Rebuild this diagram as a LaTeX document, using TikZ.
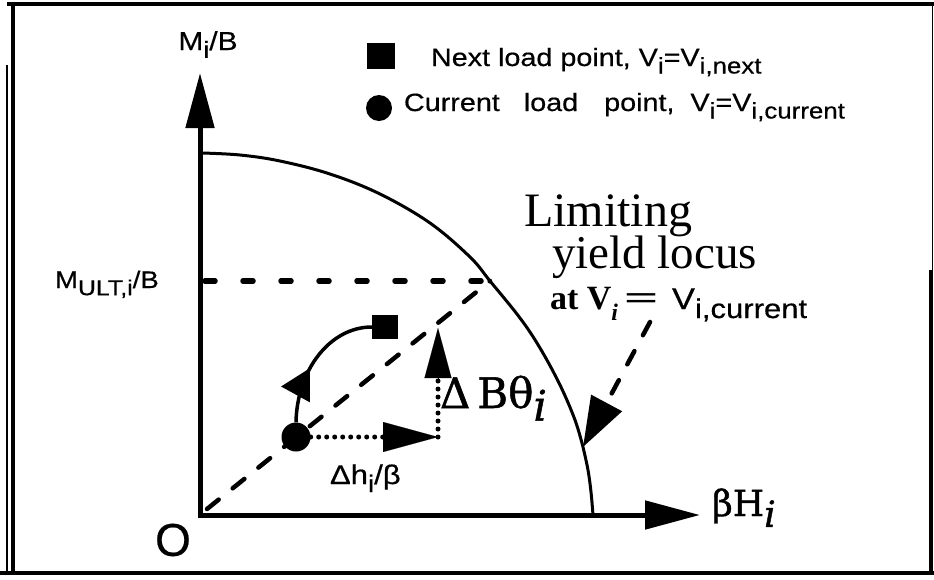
\documentclass[tikz,border=0pt]{standalone}
\usepackage{fontspec}
\setmainfont{Liberation Serif}
\newfontfamily\sw[FakeStretch=1.15,FakeBold=0.5]{Liberation Sans}
\newfontfamily\sn[FakeBold=0.5]{Liberation Sans}
\newfontfamily\dvs[FakeBold=1.2]{DejaVu Serif}
\usetikzlibrary{arrows.meta,decorations.markings}
\newcommand{\lo}[1]{\raisebox{-0.3em}{\scalebox{0.9}{#1}}}
\begin{document}
\begin{tikzpicture}[x=1pt,y=-1pt,
  frameline/.style={line width=4pt},
  axis/.style={line width=5pt,-{Triangle[length=55pt,width=28pt]}},
  locus/.style={line width=3pt,line join=round},
  dshh/.style={line width=5.5pt,line cap=round,dash pattern=on 10pt off 28pt},
  dshd/.style={line width=4.5pt,line cap=round,dash pattern=on 15pt off 18pt},
  dots/.style={line width=5pt,line cap=round,dash pattern=on 0pt off 8pt},
  lbl/.style={inner sep=0pt,outer sep=0pt}]
\useasboundingbox (0,0) rectangle (934,579);
% frame
\draw[frameline] (7,4) -- (934,4);
\draw[frameline] (13,4) -- (13,573);
\draw[line width=1.5pt] (7,65) -- (7,573);
\draw[frameline] (0,573) -- (934,573);
\draw[line width=1pt] (932.5,4) -- (932.5,573);
\draw[line width=3pt] (930.5,270) -- (930.5,573);
% axes
\coordinate (O) at (200,515);
\coordinate (ybot) at (200,517.5);
\coordinate (xleft) at (197.5,515);
\coordinate (ytip) at (200,73);
\coordinate (xtip) at (700,515);
\draw[axis] (ybot) -- (ytip);
\draw[axis] (xleft) -- (xtip);
% yield locus
\draw[locus] plot[smooth,tension=0.6] coordinates {(202,153) (240,155) (280,161) (330,174) (380,194) (430,223) (470,257) (490,281) (520,318) (540,348) (560,385) (575,420) (583,447)};
\draw[locus] plot[smooth,tension=0.6] coordinates {(583,447) (588,470) (591,492) (593,515)};
% dashed lines
\coordinate (mult) at (205,281);
\coordinate (hit) at (490,281);
\coordinate (dstart) at (207,509);
\draw[dshh] (mult) -- (hit);
\draw[dshd] (dstart) -- (hit);
% load points
\node[circle,fill,minimum size=29pt,inner sep=0pt] (cur) at (296,437) {};
\node[fill,minimum width=26pt,minimum height=24pt,inner sep=0pt] (nxt) at (385,327) {};
\draw[line width=3.5pt,postaction={decorate},
  decoration={markings,mark=at position 0.42 with {\arrow{Triangle[length=30pt,width=32pt]}}}]
  (cur.north) .. controls (297,370) and (330,327) .. (nxt.west);
% increments
\coordinate (hend) at (438,437);
\coordinate (vtip) at (438,328);
\draw[dots] (cur.east) -- (383,437);
\draw[-{Triangle[length=55pt,width=30pt]},line width=0.1pt] (383,437) -- (hend);
\draw[dots] (hend) -- (438,380);
\draw[-{Triangle[length=50pt,width=27pt]},line width=0.1pt] (438,380) -- (vtip);
% pointer to locus
\coordinate (vs) at (650,322);
\coordinate (vk) at (583,447);
\draw[dshd,-{Triangle[length=50pt,width=34pt]}] (vs) -- (vk);
% legend
\node[fill,minimum width=28pt,minimum height=26pt,inner sep=0pt] (lsq) at (381,56) {};
\node[circle,fill,minimum size=26pt,inner sep=0pt] (lci) at (379,108) {};
\node[lbl,anchor=base west] (l1) at (431,66) {\sw\fontsize{25}{25}\selectfont Next load point, V\lo{i}=V\lo{i,next}};
\node[lbl,anchor=base west] (l2) at (404,111) {\sw\fontsize{25}{25}\selectfont Current\hspace{24pt}load\hspace{26pt}point,\hspace{16pt}V\lo{i}=V\lo{i,current}};
% axis labels
\node[lbl,anchor=base] (ml) at (208,50) {\sw\fontsize{26}{26}\selectfont M\lo{i}/B};
\node[lbl,anchor=base west] (mu) at (55,288) {\sw\fontsize{24}{24}\selectfont M\lo{ULT,i}/B};
\node[lbl] (ol) at (173,540) {\sn\fontsize{46}{46}\selectfont O};
\node[lbl,anchor=base west] (bh) at (712,516) {\dvs\fontsize{36}{36}\selectfont βH\raisebox{-0.3em}{\itshape i}};
\node[lbl,anchor=base west] (dh) at (330,484) {\sw\fontsize{27}{27}\selectfont Δh\lo{i}/β};
\node[lbl,anchor=base west] (db) at (440,408) {\dvs\fontsize{42}{42}\selectfont Δ\,Bθ\raisebox{-0.3em}{\itshape i}};
% locus label
\node[lbl,anchor=base west] (t1) at (524,226) {\fontsize{48}{48}\selectfont Limiting};
\node[lbl,anchor=base west] (t2) at (552,268) {\fontsize{47}{47}\selectfont yield locus};
\node[lbl,anchor=base west] (t3) at (550,309) {\fontsize{34}{34}\selectfont\bfseries at V\raisebox{-0.35em}{\scalebox{0.7}{\itshape i}}\hspace{6pt}\scalebox{1.8}[1]{=}};
\node[lbl,anchor=base west] (t4) at (672,309) {\sw\fontsize{30}{30}\selectfont V\lo{i,current}};
\end{tikzpicture}
\end{document}
